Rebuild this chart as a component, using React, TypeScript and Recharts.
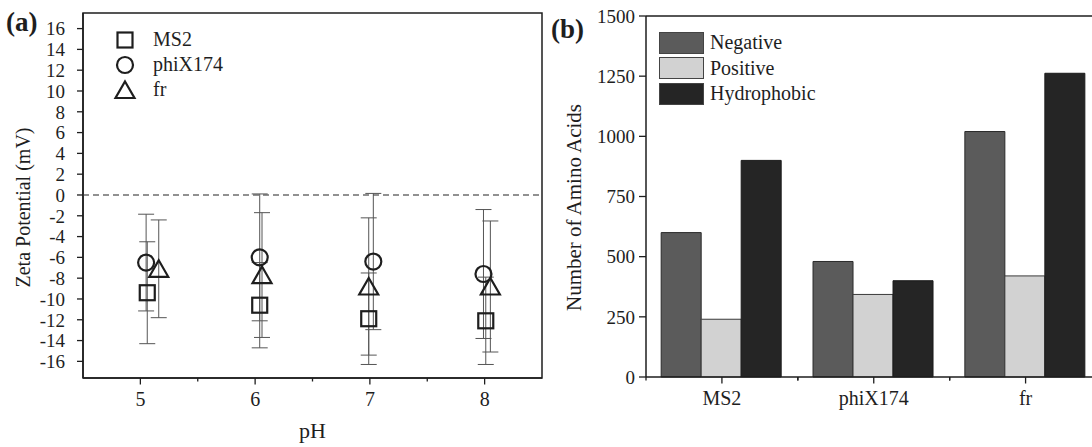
import React from 'react';
import {
  ComposedChart,
  Scatter,
  ErrorBar,
  Bar,
  XAxis,
  YAxis,
  ReferenceLine,
  ReferenceArea,
  Legend,
  Label,
} from 'recharts';

const FONT = '"Liberation Serif", "Times New Roman", serif';
const INK = '#1e1e1e';

// ---------- Panel (a): zeta potential ----------
const phTicks = [5, 5.5, 6, 6.5, 7, 7.5, 8];
const zetaTicks = [-16, -14, -12, -10, -8, -6, -4, -2, 0, 2, 4, 6, 8, 10, 12, 14, 16];

const ms2X = [5.06, 6.04, 6.99, 8.01];
const ms2Zeta = [-9.4, -10.6, -11.9, -12.1];
const ms2Err = [4.9, 4.1, 4.4, 4.2];

const phiX = [5.05, 6.04, 7.03, 7.99];
const phiZeta = [-6.5, -6.0, -6.4, -7.6];
const phiErr = [4.65, 6.1, 6.55, 6.2];

const frX = [5.16, 6.06, 6.99, 8.05];
const frZeta = [-7.1, -7.7, -8.8, -8.8];
const frErr = [4.7, 6.0, 6.6, 6.3];

// ---------- Panel (b): amino acid counts ----------
const categories = ['MS2', 'phiX174', 'fr'];
const negative = [600, 480, 1020];
const positive = [240, 343, 420];
const hydrophobic = [900, 400, 1262];
const countTicks = [0, 250, 500, 750, 1000, 1250, 1500];

const toPoints = (xs: number[], ys: number[], es: number[]) =>
  xs.map((x, i) => ({ x, y: ys[i], err: es[i] }));

const ms2Data = toPoints(ms2X, ms2Zeta, ms2Err);
const phiData = toPoints(phiX, phiZeta, phiErr);
const frData = toPoints(frX, frZeta, frErr);

const barData = categories.map((name, i) => ({
  name,
  negative: negative[i],
  positive: positive[i],
  hydrophobic: hydrophobic[i],
}));

const MARK_W = 2.2;

const SquareShape = (p: any) => (
  <rect x={p.cx - 7.5} y={p.cy - 7.5} width={15} height={15} fill="none" stroke={INK} strokeWidth={MARK_W} />
);
const CircleShape = (p: any) => (
  <circle cx={p.cx} cy={p.cy} r={8} fill="none" stroke={INK} strokeWidth={MARK_W} />
);
const TriangleShape = (p: any) => (
  <polygon
    points={`${p.cx},${p.cy - 8.5} ${p.cx + 9.5},${p.cy + 8} ${p.cx - 9.5},${p.cy + 8}`}
    fill="none"
    stroke={INK}
    strokeWidth={MARK_W}
    strokeLinejoin="miter"
  />
);

const PhTick = (props: any) => {
  const { x, y, payload } = props;
  const major = Number.isInteger(payload.value);
  return (
    <g>
      <line x1={x} x2={x} y1={y} y2={y + (major ? 6.5 : 3.5)} stroke={INK} strokeWidth={1.3} />
      {major && (
        <text x={x} y={y + 28} textAnchor="middle" fontSize={20} fontFamily={FONT} fill={INK}>
          {payload.value}
        </text>
      )}
    </g>
  );
};

const CatTick = (props: any) => {
  const { x, y, payload, width, visibleTicksCount } = props;
  const half =
    payload && typeof payload.offset === 'number' && payload.offset > 0
      ? payload.offset
      : width / (visibleTicksCount || 3) / 2;
  return (
    <g>
      <line x1={x} x2={x} y1={y} y2={y + 6.5} stroke={INK} strokeWidth={1.3} />
      <line x1={x - half} x2={x - half} y1={y} y2={y + 3.5} stroke={INK} strokeWidth={1.3} />
      <line x1={x + half} x2={x + half} y1={y} y2={y + 3.5} stroke={INK} strokeWidth={1.3} />
      <text x={x} y={y + 28} textAnchor="middle" fontSize={20} fontFamily={FONT} fill={INK}>
        {payload.value}
      </text>
    </g>
  );
};

const zetaTitle = (p: any) => {
  const vb = p.viewBox || { x: 0, y: 13, height: 365 };
  const cx = vb.x + 30;
  const cy = vb.y + vb.height / 2 + 12;
  return (
    <text
      x={cx}
      y={cy}
      transform={`rotate(-90 ${cx} ${cy})`}
      textAnchor="middle"
      fontSize={20}
      fontFamily={FONT}
      fill={INK}
    >
      Zeta Potential (mV)
    </text>
  );
};

const countTitle = (p: any) => {
  const vb = p.viewBox || { x: 0, y: 16, height: 361 };
  const cx = vb.x + 21;
  const cy = vb.y + vb.height / 2 + 11;
  return (
    <text
      x={cx}
      y={cy}
      transform={`rotate(-90 ${cx} ${cy})`}
      textAnchor="middle"
      fontSize={21}
      fontFamily={FONT}
      fill={INK}
    >
      Number of Amino Acids
    </text>
  );
};

const zetaLegendRows = [
  { name: 'MS2', kind: 'square' },
  { name: 'phiX174', kind: 'circle' },
  { name: 'fr', kind: 'triangle' },
];

const ZetaLegend = () => (
  <div style={{ fontFamily: FONT, fontSize: 20, color: INK }}>
    {zetaLegendRows.map((r) => (
      <div key={r.name} style={{ display: 'flex', alignItems: 'center', height: 25 }}>
        <svg width={24} height={24} style={{ display: 'block' }}>
          {r.kind === 'square' && <SquareShape cx={12} cy={12} />}
          {r.kind === 'circle' && <CircleShape cx={12} cy={12} />}
          {r.kind === 'triangle' && <TriangleShape cx={12} cy={12} />}
        </svg>
        <span style={{ marginLeft: 16, lineHeight: '25px' }}>{r.name}</span>
      </div>
    ))}
  </div>
);

const barColors: Record<string, string> = {
  negative: '#5b5b5b',
  positive: '#d2d2d2',
  hydrophobic: '#252525',
};
const barLegendRows = [
  { key: 'negative', name: 'Negative' },
  { key: 'positive', name: 'Positive' },
  { key: 'hydrophobic', name: 'Hydrophobic' },
];

const CountLegend = () => (
  <div style={{ fontFamily: FONT, fontSize: 20, color: INK }}>
    {barLegendRows.map((r) => (
      <div key={r.key} style={{ display: 'flex', alignItems: 'center', height: 25.5 }}>
        <div
          style={{
            width: 43,
            height: 20,
            background: barColors[r.key],
            border: '1px solid #444',
          }}
        />
        <span style={{ marginLeft: 6, lineHeight: '25px' }}>{r.name}</span>
      </div>
    ))}
  </div>
);

const axisTickStyle = { fontSize: 19, fontFamily: FONT, fill: INK };

export default function App() {
  return (
    <div
      style={{
        position: 'absolute',
        left: 0,
        top: 0,
        width: 1092,
        height: 447,
        overflow: 'hidden',
        background: '#fff',
      }}
    >
      <div style={{ position: 'absolute', left: 0, top: 0 }}>
        <ComposedChart width={560} height={447} margin={{ top: 13, right: 18, bottom: 39, left: 0 }}>
          <XAxis
            type="number"
            dataKey="x"
            domain={[4.5, 8.5]}
            ticks={phTicks}
            allowDataOverflow
            tickLine={false}
            tickSize={0}
            tickMargin={0}
            tick={<PhTick />}
            height={30}
            axisLine={{ stroke: INK, strokeWidth: 1.5 }}
            interval={0}
          />
          <YAxis
            type="number"
            dataKey="y"
            domain={[-17.6, 17.5]}
            ticks={zetaTicks}
            allowDataOverflow
            interval={0}
            width={83}
            tickSize={6}
            tickMargin={12}
            tick={axisTickStyle}
            tickLine={{ stroke: INK, strokeWidth: 1.3 }}
            axisLine={{ stroke: INK, strokeWidth: 1.5 }}
          >
            <Label content={zetaTitle} />
          </YAxis>
          <ReferenceArea
            x1={4.5}
            x2={8.5}
            y1={-17.6}
            y2={17.5}
            fill="none"
            fillOpacity={0}
            stroke={INK}
            strokeWidth={1.5}
            ifOverflow="visible"
          />
          <ReferenceLine y={0} stroke="#6e6e6e" strokeDasharray="6 4" strokeWidth={1.3} />
          <Scatter name="MS2" data={ms2Data} shape={<SquareShape />} isAnimationActive={false}>
            <ErrorBar dataKey="err" direction="y" width={8} stroke="#555" strokeWidth={1} />
          </Scatter>
          <Scatter name="phiX174" data={phiData} shape={<CircleShape />} isAnimationActive={false}>
            <ErrorBar dataKey="err" direction="y" width={8} stroke="#555" strokeWidth={1} />
          </Scatter>
          <Scatter name="fr" data={frData} shape={<TriangleShape />} isAnimationActive={false}>
            <ErrorBar dataKey="err" direction="y" width={8} stroke="#555" strokeWidth={1} />
          </Scatter>
          <Legend
            layout="vertical"
            align="center"
            verticalAlign="middle"
            content={<ZetaLegend />}
            wrapperStyle={{ left: 113, top: 27, width: 'auto', height: 'auto' }}
          />
        </ComposedChart>
      </div>

      <div style={{ position: 'absolute', left: 560, top: 0 }}>
        <ComposedChart
          width={560}
          height={447}
          data={barData}
          margin={{ top: 16, right: 18.5, bottom: 40, left: 0 }}
          barCategoryGap="10%"
          barGap={0}
        >
          <XAxis
            dataKey="name"
            tickLine={false}
            tickSize={0}
            tickMargin={0}
            tick={<CatTick />}
            height={30}
            interval={0}
            axisLine={{ stroke: INK, strokeWidth: 1.5 }}
          />
          <YAxis
            type="number"
            domain={[0, 1500]}
            ticks={countTicks}
            interval={0}
            width={86}
            tickSize={7}
            tickMargin={4}
            tick={axisTickStyle}
            tickLine={{ stroke: INK, strokeWidth: 1.3 }}
            axisLine={{ stroke: INK, strokeWidth: 1.5 }}
          >
            <Label content={countTitle} />
          </YAxis>
          <ReferenceLine y={1500} stroke={INK} strokeWidth={1.5} />
          <Bar dataKey="negative" name="Negative" fill={barColors.negative} stroke="#2a2a2a" strokeWidth={1} isAnimationActive={false} />
          <Bar dataKey="positive" name="Positive" fill={barColors.positive} stroke="#3a3a3a" strokeWidth={1} isAnimationActive={false} />
          <Bar dataKey="hydrophobic" name="Hydrophobic" fill={barColors.hydrophobic} stroke="#1a1a1a" strokeWidth={1} isAnimationActive={false} />
          <Legend
            layout="vertical"
            align="center"
            verticalAlign="middle"
            content={<CountLegend />}
            wrapperStyle={{ left: 99, top: 30, width: 'auto', height: 'auto' }}
          />
        </ComposedChart>
      </div>

      <svg
        width={1092}
        height={447}
        style={{ position: 'absolute', left: 0, top: 0, pointerEvents: 'none' }}
      >
        <text x={6} y={31} fontSize={27} fontWeight="bold" fontFamily={FONT} fill={INK}>
          (a)
        </text>
        <text x={551} y={38} fontSize={27} fontWeight="bold" fontFamily={FONT} fill={INK}>
          (b)
        </text>
        <text x={312.5} y={438} textAnchor="middle" fontSize={22} fontFamily={FONT} fill={INK}>
          pH
        </text>
      </svg>
    </div>
  );
}
